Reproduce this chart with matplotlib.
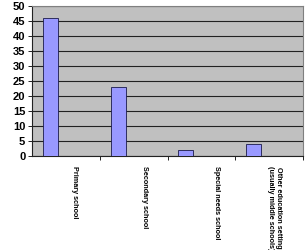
import matplotlib
matplotlib.use("Agg")
import matplotlib.pyplot as plt
import numpy as np

categories = ["Primary school", "Secondary school", "Special needs school",
              "Other education setting\n(usually middle schools)"]
values = [46, 23, 2, 4]
y_ticks = [0, 5, 10, 15, 20, 25, 30, 35, 40, 45, 50]

plt.rcParams["font.family"] = ["Liberation Sans", "DejaVu Sans"]

fig = plt.figure(figsize=(3.07, 2.5), dpi=100)
ax = fig.add_axes([0.105, 0.376, 0.882, 0.6])
ax.set_facecolor("#c0c0c0")

x = np.arange(len(values))
ax.bar(x + 0.16, values, width=0.22, align="edge",
       color="#9999ff", edgecolor="#1a1a4a", linewidth=0.6, zorder=3)

ax.set_xlim(0, len(values))
ax.set_ylim(0, 50)
ax.set_yticks(y_ticks)
ax.set_yticklabels([str(v) for v in y_ticks], fontsize=8, fontweight="bold")
ax.yaxis.grid(True, color="#222222", linewidth=0.8, zorder=1)
ax.tick_params(axis="y", length=3, width=0.6, pad=2)

# category boundaries as minor ticks, labels offset inside slot
ax.set_xticks(np.arange(1, len(values) + 1), minor=True)
ax.tick_params(axis="x", which="minor", length=3, width=0.6)
ax.set_xticks([0.63, 1.66, 2.72, 3.58])
ax.set_xticklabels(categories, rotation=-90, fontsize=5.2, fontweight="bold",
                   va="top", ha="center", linespacing=1.1)
ax.tick_params(axis="x", which="major", length=0, pad=7)

for side in ["top", "right"]:
    ax.spines[side].set_color("#808080")
    ax.spines[side].set_linewidth(0.8)
for side in ["left", "bottom"]:
    ax.spines[side].set_color("#222222")
    ax.spines[side].set_linewidth(0.8)

fig.savefig("out.png", dpi=100)
